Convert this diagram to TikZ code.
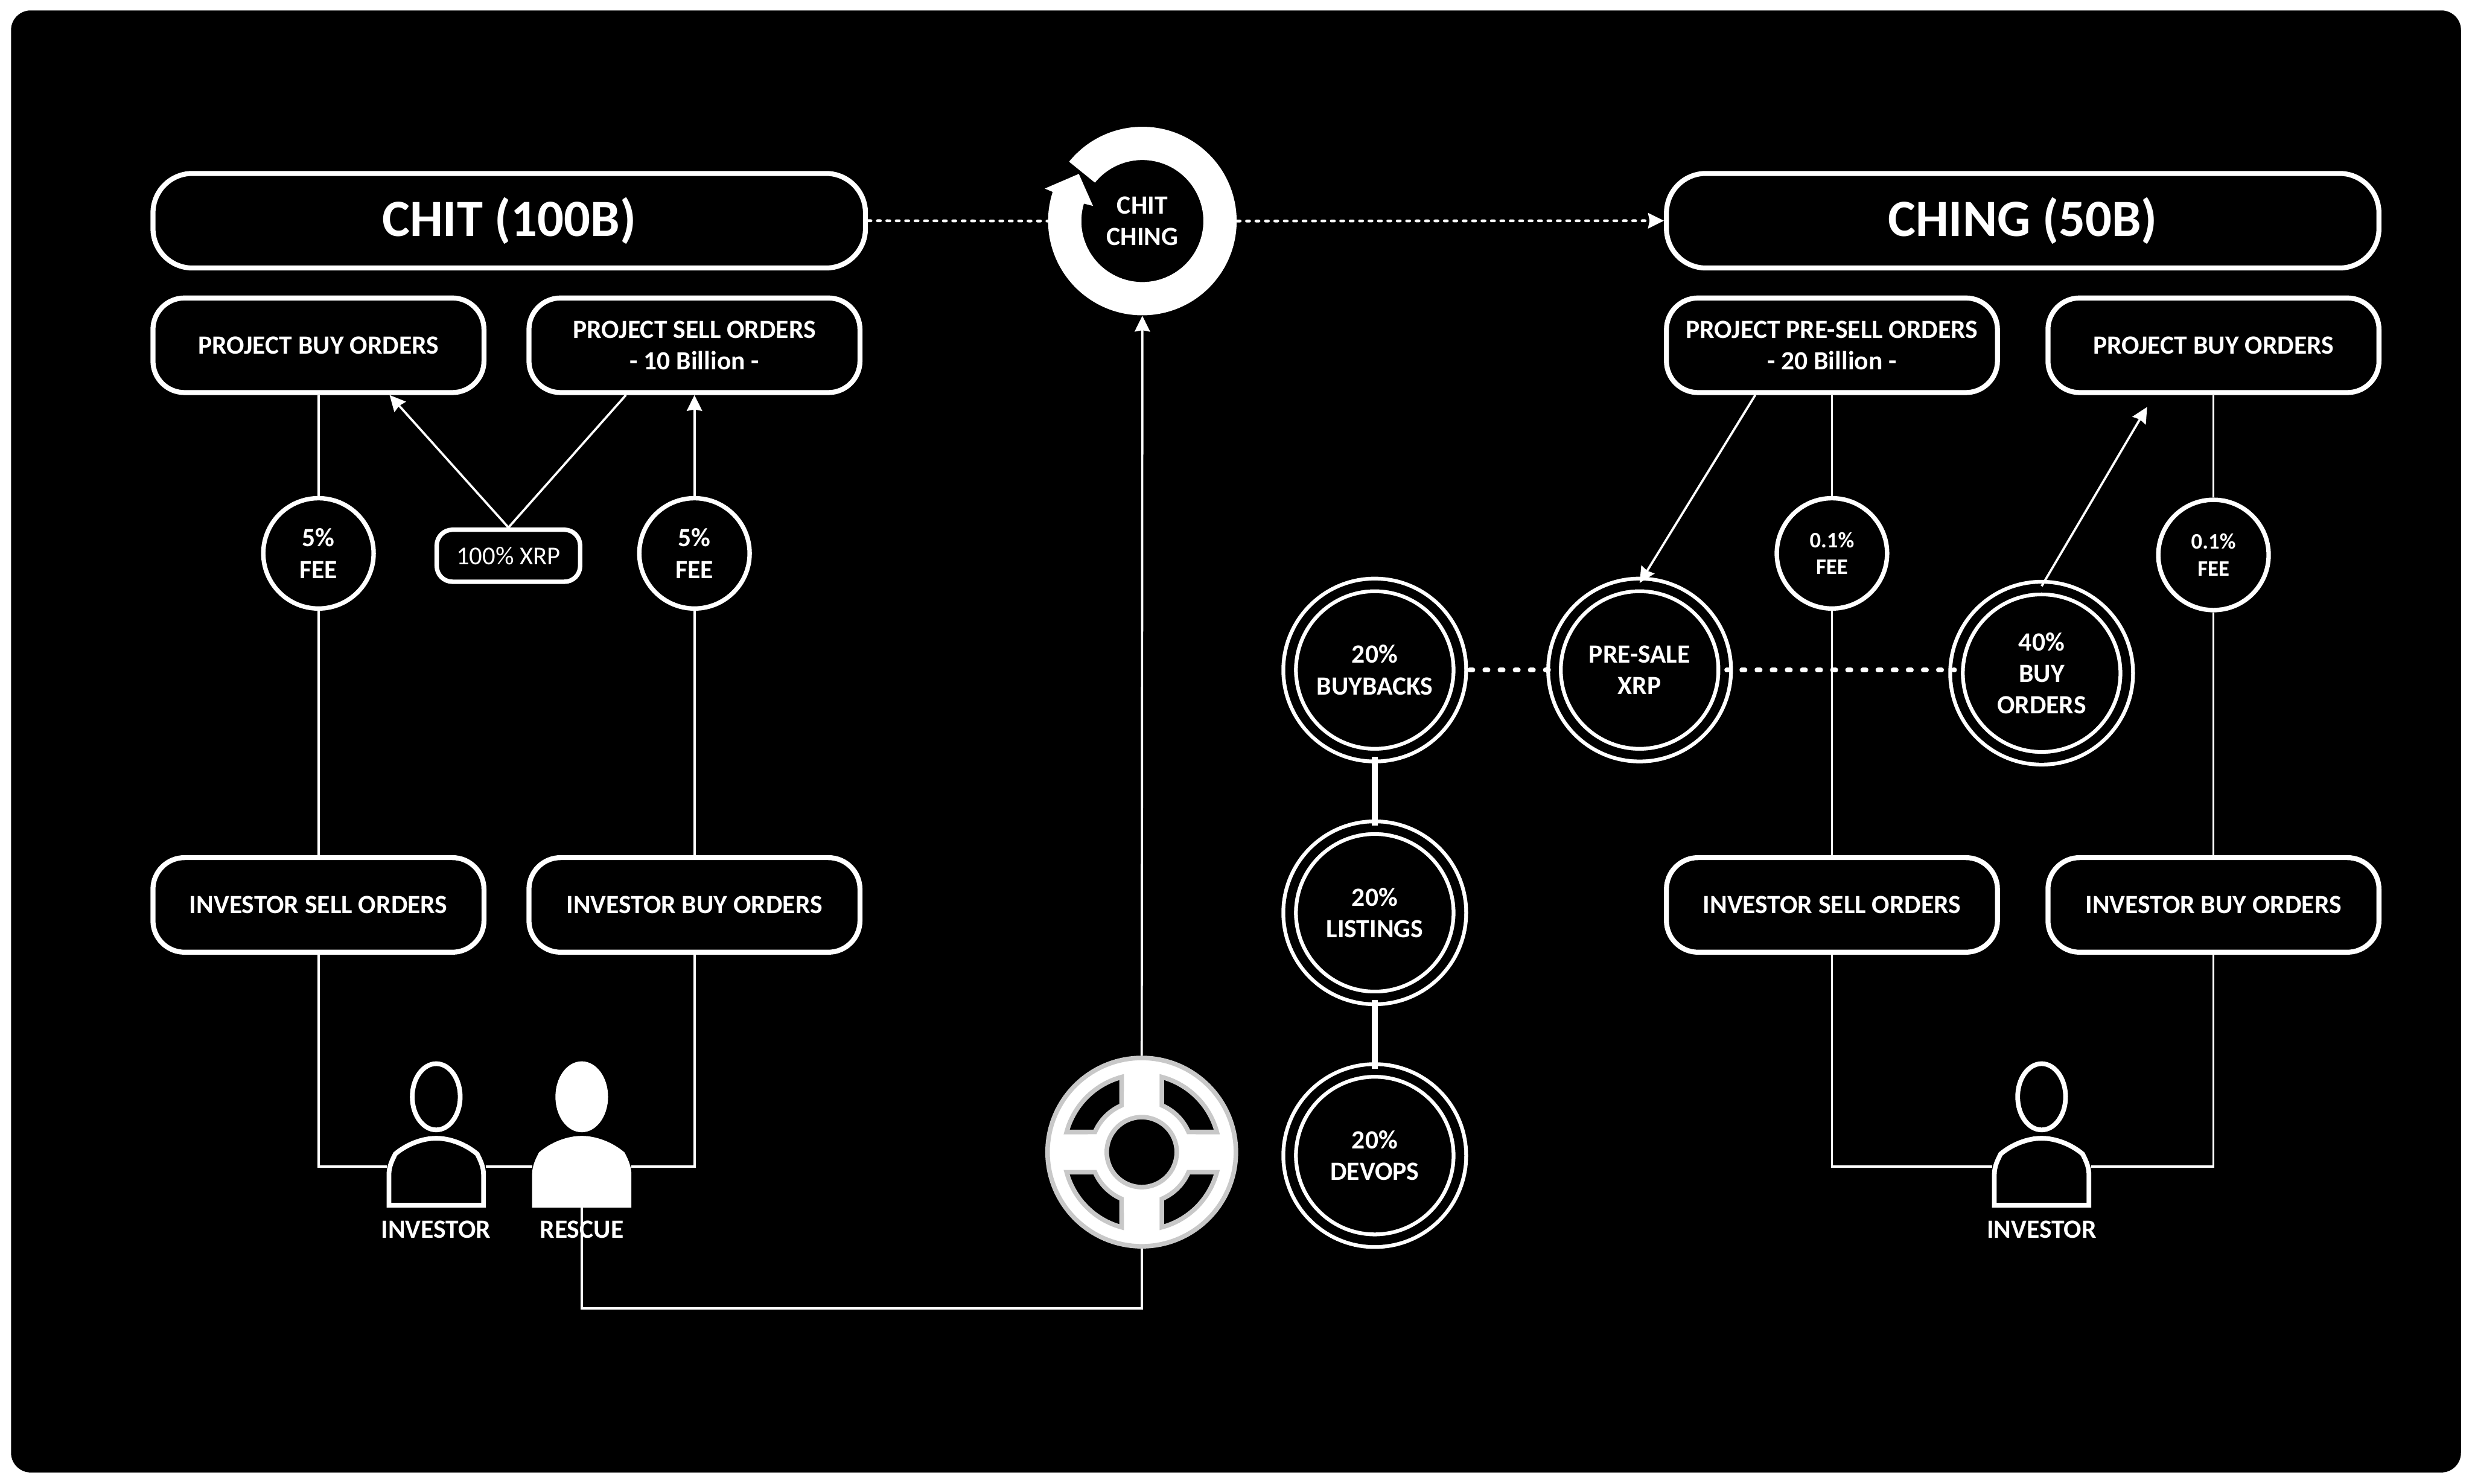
\documentclass[tikz,border=0pt]{standalone}
\usepackage{fontspec}
\setmainfont{Carlito}
\usepackage{tikz}
\usetikzlibrary{arrows.meta,positioning,calc}
\definecolor{buoygray}{HTML}{C8C8C8}
\tikzset{
  wire/.style={white, line width=.8pt},
  heavy/.style={white, line width=2.3pt},
  dots/.style={white, line width=1pt, line cap=round, dash pattern=on 1.1pt off 2.3pt},
  bigdots/.style={white, line width=1.65pt, line cap=round, dash pattern=on 1.2pt off 4.26pt},
  label/.style={text=white, align=center, font=\fontsize{9.5}{11.4}\selectfont\bfseries},
  smalllabel/.style={text=white, align=center, font=\fontsize{8}{9.7}\selectfont\bfseries},
  titlebox/.style={draw=white, line width=1.8pt, rounded corners=.5cm, minimum width=9.04cm, minimum height=1.2cm, text=white, font=\fontsize{18.9}{22}\selectfont\bfseries},
  orderbox/.style={label, draw=white, line width=1.8pt, rounded corners=.4cm, minimum width=4.2cm, minimum height=1.2cm},
  feecircle/.style={draw=white, circle, line width=1.6pt, minimum size=1.4cm, inner sep=0pt},
  splitcircle/.style={label, draw=white, circle, double=black, double distance=1.12mm, line width=.48mm, minimum size=2.16cm, inner sep=0pt},
  buoyline/.style={draw=buoygray, line width=.58mm},
  % pics do not take the yscale of the picture, so y points up in here
  person/.pic={
    \draw[white, line width=1.7pt, pic actions] (0,44.3) ellipse (15.2 and 21);
    \draw[white, line width=1.7pt, pic actions] (-30,-24.5) -- (-30,-5) .. controls (-30,0) and (-28,4) .. (-26,8)
      .. controls (-19,14) and (-9,18) .. (0,18) .. controls (9,18) and (19,14) .. (26,8)
      .. controls (28,4) and (30,0) .. (30,-5) -- (30,-24.5) -- cycle;
    \coordinate (-west) at (-31.5,0);
    \coordinate (-east) at (31.5,0);
    \coordinate (-south) at (0,-26);
  }
}
\begin{document}
\begin{tikzpicture}[yscale=-1, x=0.02cm, y=0.02cm, >={Stealth[length=5.7pt,width=5.5pt,inset=.5pt]}]
\useasboundingbox (0,0) rectangle (1568,941);
% background
\fill[black, rounded corners=.25cm] (7,6.6) rectangle (1561,934);
% left column
\node[titlebox] (chit) at (323,140) {CHIT (100B)};
\node[orderbox] (chitbuy) at (202,219) {PROJECT BUY ORDERS};
\node[orderbox] (chitsell) at (440.5,219) {PROJECT SELL ORDERS\\- 10 Billion -};
\node[feecircle, label] (feebuy) at (202,351) {5\%\\FEE};
\node[feecircle, label] (feesell) at (440.5,351) {5\%\\FEE};
\node[draw=white, line width=1.6pt, rounded corners=.2cm, minimum width=1.82cm, minimum height=.66cm, inner sep=0pt, text=white, font=\fontsize{9.3}{11}\selectfont] (xrp) at (322.5,352.5) {100\% XRP};
\node[orderbox] (chitinvsell) at (202,574) {INVESTOR SELL ORDERS};
\node[orderbox] (chitinvbuy) at (440.5,574) {INVESTOR BUY ORDERS};
% people
\pic (investor) at (276.7,740) {person};
\pic[fill=white] (rescue) at (369,740) {person};
\node[label] (investorlabel) at (276.5,780) {INVESTOR};
\node[label] (rescuelabel) at (369,780) {RESCUE};
% middle
\node[label, circle, minimum size=2.39cm, inner sep=0pt] (ring) at (724.6,140.2) {CHIT\\CHING};
\begin{scope}[shift={(ring.center)}]
\fill[white] (-141:59.8) arc[start angle=-141, end angle=198, radius=59.8] -- (-61.9,-20.6) -- (-40.3,-29.9) -- (-31.3,-9.6) -- (196.6:38.7) arc[start angle=196.6, end angle=-141, radius=38.7] -- cycle;
\end{scope}
\node[circle, buoyline, fill=white, minimum size=2.39cm, inner sep=0pt] (buoy) at (724.2,730.8) {};
\begin{scope}[shift={(buoy.center)}]
\draw[buoyline, fill=black] (0,0) circle (22.2);
\foreach \a in {0,90,180,270}
  \draw[buoyline, fill=black, rotate=\a] (15:49.3) arc[start angle=15, end angle=75, radius=49.3] -- (66.7:32.3) arc[start angle=66.7, end angle=23.3, radius=32.3] -- cycle;
\end{scope}
\coordinate (turn) at (724.2,830);
% right column
\node[titlebox] (ching) at (1283,140) {CHING (50B)};
\node[orderbox] (presell) at (1162,219) {PROJECT PRE-SELL ORDERS\\- 20 Billion -};
\node[orderbox] (chingbuy) at (1404,219) {PROJECT BUY ORDERS};
\node[feecircle, smalllabel] (feepre) at (1162,351) {0.1\%\\FEE};
\node[feecircle, smalllabel] (feeching) at (1404,352) {0.1\%\\FEE};
\node[orderbox] (chinginvsell) at (1162,574) {INVESTOR SELL ORDERS};
\node[orderbox] (chinginvbuy) at (1404,574) {INVESTOR BUY ORDERS};
\pic (chinginvestor) at (1295,740) {person};
\node[label] (chinginvestorlabel) at (1295,780) {INVESTOR};
% split circles
\node[splitcircle] (buybacks) at (872,425) {20\%\\BUYBACKS};
\node[splitcircle] (presale) at (1040,425) {PRE-SALE\\XRP};
\node[splitcircle] (buyorders) at (1295,427) {40\%\\BUY\\ORDERS};
\node[splitcircle] (listings) at (872,579) {20\%\\LISTINGS};
\node[splitcircle] (devops) at (872,733) {20\%\\DEVOPS};
% connectors left
\draw[dots] (chit.east) -- (ring.west);
\draw[dots, ->] (ring.east) -- (ching.west);
\draw[wire] (chitbuy.south) -- (feebuy.north);
\draw[wire] (feebuy.south) -- (chitinvsell.north);
\draw[wire, ->] (feesell.north) -- (chitsell.south);
\draw[wire] (feesell.south) -- (chitinvbuy.north);
\draw[wire, ->] (xrp.north) -- (chitbuy.-35.5);
\draw[wire] (xrp.north) -- (chitsell.-144.5);
\draw[wire] (chitinvsell.south) |- (investor-west);
\draw[wire] (investor-east) -- (rescue-west);
\draw[wire] (rescue-east) -| (chitinvbuy.south);
\draw[wire] (rescue-south) |- (turn) -- (buoy.south);
\draw[wire, ->] (buoy.north) -- (ring.south);
% connectors right
\draw[wire, ->] (presell.-147) -- (presale.north);
\draw[wire] (presell.south) -- (feepre.north);
\draw[wire] (feepre.south) -- (chinginvsell.north);
\draw[wire, ->, shorten >=5pt] (buyorders.north) -- (chingbuy.-140);
\draw[wire] (chingbuy.south) -- (feeching.north);
\draw[wire] (feeching.south) -- (chinginvbuy.north);
\draw[wire] (chinginvsell.south) |- (chinginvestor-west);
\draw[wire] (chinginvestor-east) -| (chinginvbuy.south);
\draw[bigdots] (buybacks.east) ++(5,0) -- (presale.west);
\draw[bigdots] (presale.east) -- (buyorders.west |- presale.east);
\draw[heavy] (buybacks.south) -- (listings.north);
\draw[heavy] (listings.south) -- (devops.north);
\end{tikzpicture}
\end{document}
